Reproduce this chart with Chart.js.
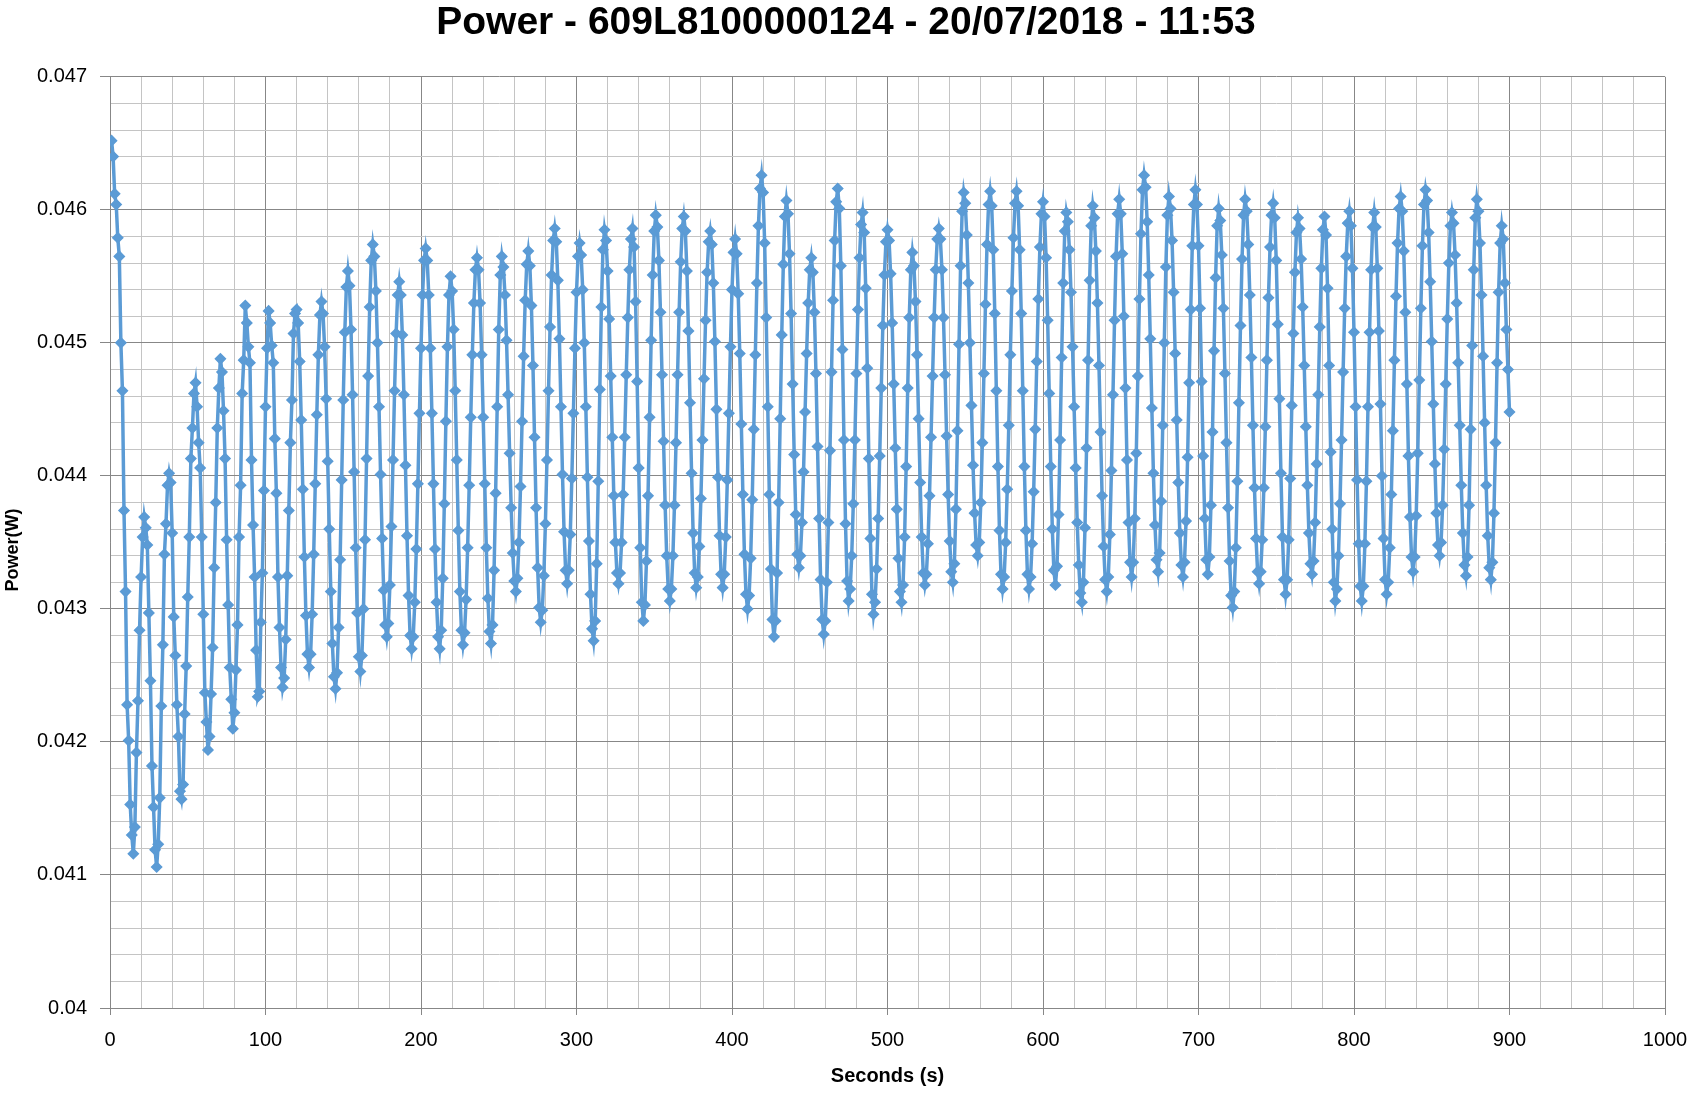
<!DOCTYPE html>
<html>
<head>
<meta charset="utf-8">
<script src="https://cdn.jsdelivr.net/npm/chart.js@4.4.1/dist/chart.umd.min.js"></script>
<style>
  html, body { margin: 0; padding: 0; background: #ffffff; }
  #wrap { width: 1692px; height: 1093px; position: relative; }
</style>
</head>
<body>
<div id="wrap"><canvas id="c" width="1692" height="1093"></canvas></div>
<script>
// ---- data ----
const chartTitle = 'Power - 609L8100000124 - 20/07/2018 - 11:53';
const xAxisTitle = 'Seconds (s)';
const yAxisTitle = 'Power(W)';
const firstSecond = 1;      // time of first sample (s)
const sampleStep = 1;       // seconds between samples
const xTickMin = 0, xTickMax = 1000, xMajorStep = 100, xMinorStep = 20;
const yTickMin = 0.04, yTickMax = 0.047, yMajorStep = 0.001, yMinorStep = 0.0002;

// power in W, one sample per second
const powerW = [
0.04652,0.04640,0.04612,0.04604,0.04579,0.04565,0.04500,0.04464,0.04374,0.04313,
0.04228,0.04201,0.04153,0.04130,0.04116,0.04136,0.04192,0.04231,0.04284,0.04324,
0.04354,0.04369,0.04361,0.04348,0.04297,0.04246,0.04182,0.04151,0.04119,0.04106,
0.04123,0.04158,0.04227,0.04273,0.04341,0.04364,0.04393,0.04402,0.04395,0.04357,
0.04294,0.04265,0.04228,0.04204,0.04163,0.04157,0.04168,0.04221,0.04257,0.04309,
0.04354,0.04413,0.04436,0.04462,0.04470,0.04452,0.04425,0.04406,0.04354,0.04296,
0.04237,0.04215,0.04194,0.04204,0.04236,0.04271,0.04331,0.04380,0.04436,0.04466,
0.04488,0.04478,0.04449,0.04413,0.04352,0.04303,0.04256,0.04232,0.04210,0.04222,
0.04254,0.04288,0.04354,0.04393,0.04462,0.04487,0.04528,0.04515,0.04497,0.04485,
0.04412,0.04363,0.04324,0.04269,0.04234,0.04238,0.04290,0.04327,0.04389,0.04452,
0.04496,0.04524,0.04515,0.04498,0.04485,0.04428,0.04387,0.04324,0.04286,0.04256,
0.04241,0.04248,0.04277,0.04325,0.04374,0.04425,0.04457,0.04507,0.04522,0.04525,
0.04515,0.04486,0.04442,0.04390,0.04339,0.04295,0.04266,0.04256,0.04266,0.04296,
0.04341,0.04394,0.04446,0.04491,0.04521,0.04531,0.04522,0.04497,0.04458,0.04411,
0.04360,0.04313,0.04274,0.04249,0.04240,0.04252,0.04286,0.04337,0.04397,0.04457,
0.04508,0.04542,0.04554,0.04543,0.04510,0.04461,0.04403,0.04346,0.04297,0.04264,
0.04253,0.04265,0.04300,0.04352,0.04413,0.04475,0.04527,0.04562,0.04574,0.04565,
0.04539,0.04500,0.04452,0.04401,0.04353,0.04314,0.04288,0.04279,0.04289,0.04318,
0.04362,0.04412,0.04464,0.04507,0.04536,0.04546,0.04536,0.04506,0.04461,0.04408,
0.04355,0.04310,0.04280,0.04270,0.04279,0.04305,0.04345,0.04394,0.04447,0.04496,
0.04536,0.04562,0.04571,0.04562,0.04536,0.04496,0.04447,0.04394,0.04345,0.04305,
0.04279,0.04270,0.04284,0.04323,0.04379,0.04441,0.04497,0.04536,0.04550,0.04539,
0.04510,0.04464,0.04412,0.04359,0.04313,0.04284,0.04273,0.04282,0.04307,0.04346,
0.04393,0.04444,0.04491,0.04530,0.04555,0.04564,0.04555,0.04530,0.04491,0.04444,
0.04394,0.04346,0.04308,0.04283,0.04274,0.04288,0.04329,0.04387,0.04452,0.04510,
0.04551,0.04565,0.04557,0.04536,0.04502,0.04461,0.04417,0.04376,0.04342,0.04321,
0.04313,0.04323,0.04350,0.04392,0.04441,0.04490,0.04532,0.04559,0.04569,0.04558,
0.04528,0.04483,0.04429,0.04376,0.04331,0.04301,0.04290,0.04299,0.04325,0.04364,
0.04412,0.04464,0.04512,0.04551,0.04577,0.04586,0.04576,0.04547,0.04503,0.04452,
0.04401,0.04358,0.04329,0.04319,0.04329,0.04356,0.04398,0.04447,0.04496,0.04538,
0.04565,0.04575,0.04566,0.04540,0.04500,0.04452,0.04399,0.04351,0.04311,0.04285,
0.04276,0.04291,0.04334,0.04396,0.04465,0.04527,0.04570,0.04585,0.04577,0.04554,
0.04518,0.04475,0.04429,0.04385,0.04350,0.04327,0.04319,0.04327,0.04350,0.04386,
0.04429,0.04476,0.04519,0.04555,0.04578,0.04586,0.04572,0.04531,0.04471,0.04406,
0.04346,0.04305,0.04291,0.04303,0.04336,0.04385,0.04444,0.04502,0.04551,0.04584,
0.04596,0.04587,0.04562,0.04523,0.04476,0.04426,0.04378,0.04340,0.04315,0.04306,
0.04315,0.04340,0.04378,0.04425,0.04476,0.04523,0.04561,0.04586,0.04595,0.04584,
0.04554,0.04509,0.04455,0.04402,0.04357,0.04327,0.04316,0.04324,0.04347,0.04383,
0.04427,0.04473,0.04517,0.04553,0.04576,0.04584,0.04574,0.04545,0.04501,0.04450,
0.04399,0.04355,0.04326,0.04316,0.04326,0.04354,0.04397,0.04447,0.04497,0.04540,
0.04568,0.04578,0.04567,0.04537,0.04492,0.04439,0.04386,0.04341,0.04311,0.04300,
0.04310,0.04338,0.04382,0.04435,0.04491,0.04545,0.04588,0.04616,0.04626,0.04613,
0.04575,0.04519,0.04452,0.04386,0.04330,0.04292,0.04279,0.04291,0.04327,0.04380,
0.04443,0.04506,0.04559,0.04595,0.04607,0.04597,0.04567,0.04522,0.04469,0.04416,
0.04371,0.04341,0.04331,0.04340,0.04365,0.04403,0.04448,0.04492,0.04530,0.04555,
0.04564,0.04553,0.04523,0.04477,0.04422,0.04368,0.04322,0.04292,0.04281,0.04291,
0.04320,0.04365,0.04419,0.04478,0.04532,0.04577,0.04606,0.04616,0.04601,0.04558,
0.04495,0.04427,0.04364,0.04321,0.04306,0.04315,0.04340,0.04379,0.04427,0.04477,
0.04525,0.04564,0.04589,0.04598,0.04583,0.04541,0.04481,0.04413,0.04353,0.04311,
0.04296,0.04305,0.04330,0.04368,0.04415,0.04466,0.04513,0.04551,0.04576,0.04585,
0.04577,0.04552,0.04515,0.04469,0.04421,0.04375,0.04338,0.04313,0.04305,0.04318,
0.04354,0.04407,0.04466,0.04519,0.04555,0.04568,0.04558,0.04531,0.04491,0.04443,
0.04395,0.04354,0.04327,0.04318,0.04326,0.04349,0.04385,0.04429,0.04475,0.04519,
0.04555,0.04578,0.04586,0.04578,0.04555,0.04519,0.04476,0.04430,0.04386,0.04351,
0.04328,0.04320,0.04334,0.04375,0.04434,0.04499,0.04558,0.04599,0.04613,0.04605,
0.04581,0.04545,0.04500,0.04453,0.04408,0.04372,0.04348,0.04340,0.04350,0.04380,
0.04425,0.04477,0.04529,0.04574,0.04604,0.04614,0.04603,0.04570,0.04522,0.04464,
0.04407,0.04359,0.04326,0.04315,0.04324,0.04350,0.04390,0.04438,0.04491,0.04539,
0.04579,0.04605,0.04614,0.04603,0.04570,0.04522,0.04464,0.04407,0.04359,0.04326,
0.04315,0.04324,0.04349,0.04388,0.04435,0.04486,0.04533,0.04572,0.04597,0.04606,
0.04595,0.04564,0.04517,0.04462,0.04407,0.04360,0.04329,0.04318,0.04332,0.04371,
0.04427,0.04489,0.04545,0.04584,0.04598,0.04591,0.04570,0.04538,0.04497,0.04452,
0.04406,0.04365,0.04333,0.04312,0.04305,0.04320,0.04361,0.04421,0.04487,0.04547,
0.04588,0.04603,0.04594,0.04569,0.04530,0.04483,0.04433,0.04385,0.04347,0.04322,
0.04313,0.04324,0.04356,0.04404,0.04461,0.04517,0.04565,0.04597,0.04608,0.04597,
0.04567,0.04520,0.04466,0.04412,0.04365,0.04335,0.04324,0.04335,0.04368,0.04417,
0.04475,0.04533,0.04582,0.04615,0.04626,0.04617,0.04591,0.04551,0.04503,0.04451,
0.04402,0.04363,0.04337,0.04328,0.04342,0.04381,0.04438,0.04500,0.04557,0.04596,
0.04610,0.04601,0.04577,0.04538,0.04492,0.04442,0.04395,0.04357,0.04333,0.04324,
0.04335,0.04366,0.04414,0.04470,0.04525,0.04573,0.04604,0.04615,0.04604,0.04573,
0.04526,0.04471,0.04415,0.04368,0.04337,0.04326,0.04339,0.04378,0.04433,0.04494,
0.04549,0.04588,0.04601,0.04592,0.04566,0.04526,0.04477,0.04425,0.04376,0.04336,
0.04310,0.04301,0.04313,0.04346,0.04396,0.04455,0.04513,0.04563,0.04596,0.04608,
0.04599,0.04574,0.04536,0.04489,0.04438,0.04391,0.04353,0.04328,0.04319,0.04328,
0.04352,0.04391,0.04437,0.04487,0.04534,0.04572,0.04596,0.04605,0.04594,0.04562,
0.04514,0.04458,0.04402,0.04354,0.04322,0.04311,0.04322,0.04352,0.04398,0.04453,
0.04507,0.04553,0.04583,0.04594,0.04586,0.04563,0.04527,0.04483,0.04437,0.04393,
0.04357,0.04334,0.04326,0.04336,0.04365,0.04409,0.04461,0.04512,0.04556,0.04585,
0.04595,0.04581,0.04541,0.04483,0.04418,0.04360,0.04320,0.04306,0.04315,0.04340,
0.04379,0.04427,0.04478,0.04526,0.04565,0.04590,0.04599,0.04588,0.04556,0.04508,
0.04452,0.04397,0.04349,0.04317,0.04306,0.04317,0.04349,0.04396,0.04452,0.04508,
0.04555,0.04587,0.04598,0.04587,0.04556,0.04509,0.04454,0.04400,0.04353,0.04322,
0.04311,0.04320,0.04346,0.04386,0.04434,0.04487,0.04535,0.04575,0.04601,0.04610,
0.04599,0.04569,0.04523,0.04469,0.04415,0.04369,0.04339,0.04328,0.04339,0.04370,
0.04417,0.04472,0.04526,0.04573,0.04604,0.04615,0.04607,0.04583,0.04546,0.04501,
0.04454,0.04409,0.04372,0.04348,0.04340,0.04350,0.04378,0.04420,0.04469,0.04518,
0.04560,0.04588,0.04598,0.04590,0.04566,0.04530,0.04485,0.04438,0.04393,0.04357,
0.04333,0.04325,0.04339,0.04378,0.04435,0.04498,0.04555,0.04594,0.04608,0.04599,
0.04575,0.04536,0.04490,0.04440,0.04393,0.04355,0.04331,0.04322,0.04335,0.04372,
0.04425,0.04485,0.04538,0.04575,0.04588,0.04578,0.04545,0.04510,0.04480,0.04448
];

// ---- styling ----
const lineColor = '#5B9BD5';
const majorGrid = '#878787';
const minorGrid = '#c4c4c4';
const fontFamily = '"Liberation Sans", Arial, sans-serif';

const points = powerW.map((v, i) => ({ x: firstSecond + i * sampleStep, y: v }));

function isMultiple(v, step) {
  const r = v / step;
  return Math.abs(r - Math.round(r)) < 1e-6;
}

const chart = new Chart(document.getElementById('c'), {
  type: 'line',
  data: {
    datasets: [{
      label: 'Power',
      data: points,
      yAxisID: 'y',
      borderColor: lineColor,
      backgroundColor: lineColor,
      borderWidth: 3.5,
      pointStyle: 'rectRot',
      pointRadius: 5,
      pointBorderWidth: 1.5,
      pointBackgroundColor: lineColor,
      pointBorderColor: lineColor,
      tension: 0,
      fill: false
    }]
  },
  options: {
    responsive: false,
    animation: false,
    devicePixelRatio: 1,
    layout: { padding: { left: 0, right: 0, top: 0, bottom: 0 } },
    plugins: {
      legend: { display: false },
      tooltip: { enabled: false },
      title: {
        display: true,
        text: chartTitle,
        color: '#000',
        font: { family: fontFamily, size: 39, weight: 'bold', lineHeight: 1.2 },
        padding: { top: 0, bottom: 30 }
      }
    },
    scales: {
      x: {
        type: 'linear',
        min: xTickMin,
        max: xTickMax,
        border: { color: majorGrid, width: 1 },
        grid: {
          color: ctx => isMultiple(ctx.tick.value, xMajorStep) ? majorGrid : minorGrid,
          tickColor: ctx => isMultiple(ctx.tick.value, xMajorStep) ? majorGrid : 'rgba(0,0,0,0)',
          tickLength: 7,
          lineWidth: 1
        },
        ticks: {
          stepSize: xMinorStep,
          autoSkip: false,
          maxRotation: 0,
          color: '#000',
          padding: 13,
          font: { family: fontFamily, size: 20 },
          callback: v => isMultiple(v, xMajorStep) ? String(Math.round(v)) : ''
        },
        title: {
          display: true,
          text: xAxisTitle,
          color: '#000',
          font: { family: fontFamily, size: 20, weight: 'bold', lineHeight: 1.2 },
          padding: { top: 0, bottom: 5 }
        },
        afterFit: s => { s.height = 85; s.paddingRight = 0; s.paddingLeft = 0; }
      },
      y: {
        type: 'linear',
        position: 'left',
        min: yTickMin,
        max: yTickMax,
        border: { color: majorGrid, width: 1 },
        grid: {
          color: ctx => isMultiple(ctx.tick.value, yMajorStep) ? majorGrid : minorGrid,
          tickColor: ctx => isMultiple(ctx.tick.value, yMajorStep) ? majorGrid : 'rgba(0,0,0,0)',
          tickLength: 10,
          lineWidth: 1
        },
        ticks: {
          stepSize: yMinorStep,
          autoSkip: false,
          color: '#000',
          padding: 13,
          font: { family: fontFamily, size: 20 },
          callback: v => isMultiple(v, yMajorStep) ? String(Math.round(v * 1000) / 1000) : ''
        },
        title: {
          display: true,
          text: yAxisTitle + '   ',
          color: '#000',
          font: { family: fontFamily, size: 18, weight: 'bold', lineHeight: 1.2 },
          padding: { top: 2, bottom: 0 }
        },
        afterFit: s => { s.width = 110; s.paddingTop = 0; s.paddingBottom = 0; }
      },
      yRightMargin: {
        type: 'linear',
        position: 'right',
        min: yTickMin,
        max: yTickMax,
        display: true,
        border: { display: false },
        grid: { display: false, drawOnChartArea: false, drawTicks: false },
        ticks: { display: false },
        afterFit: s => { s.width = 27; s.paddingTop = 0; s.paddingBottom = 0; }
      }
    }
  }
});
</script>
</body>
</html>
